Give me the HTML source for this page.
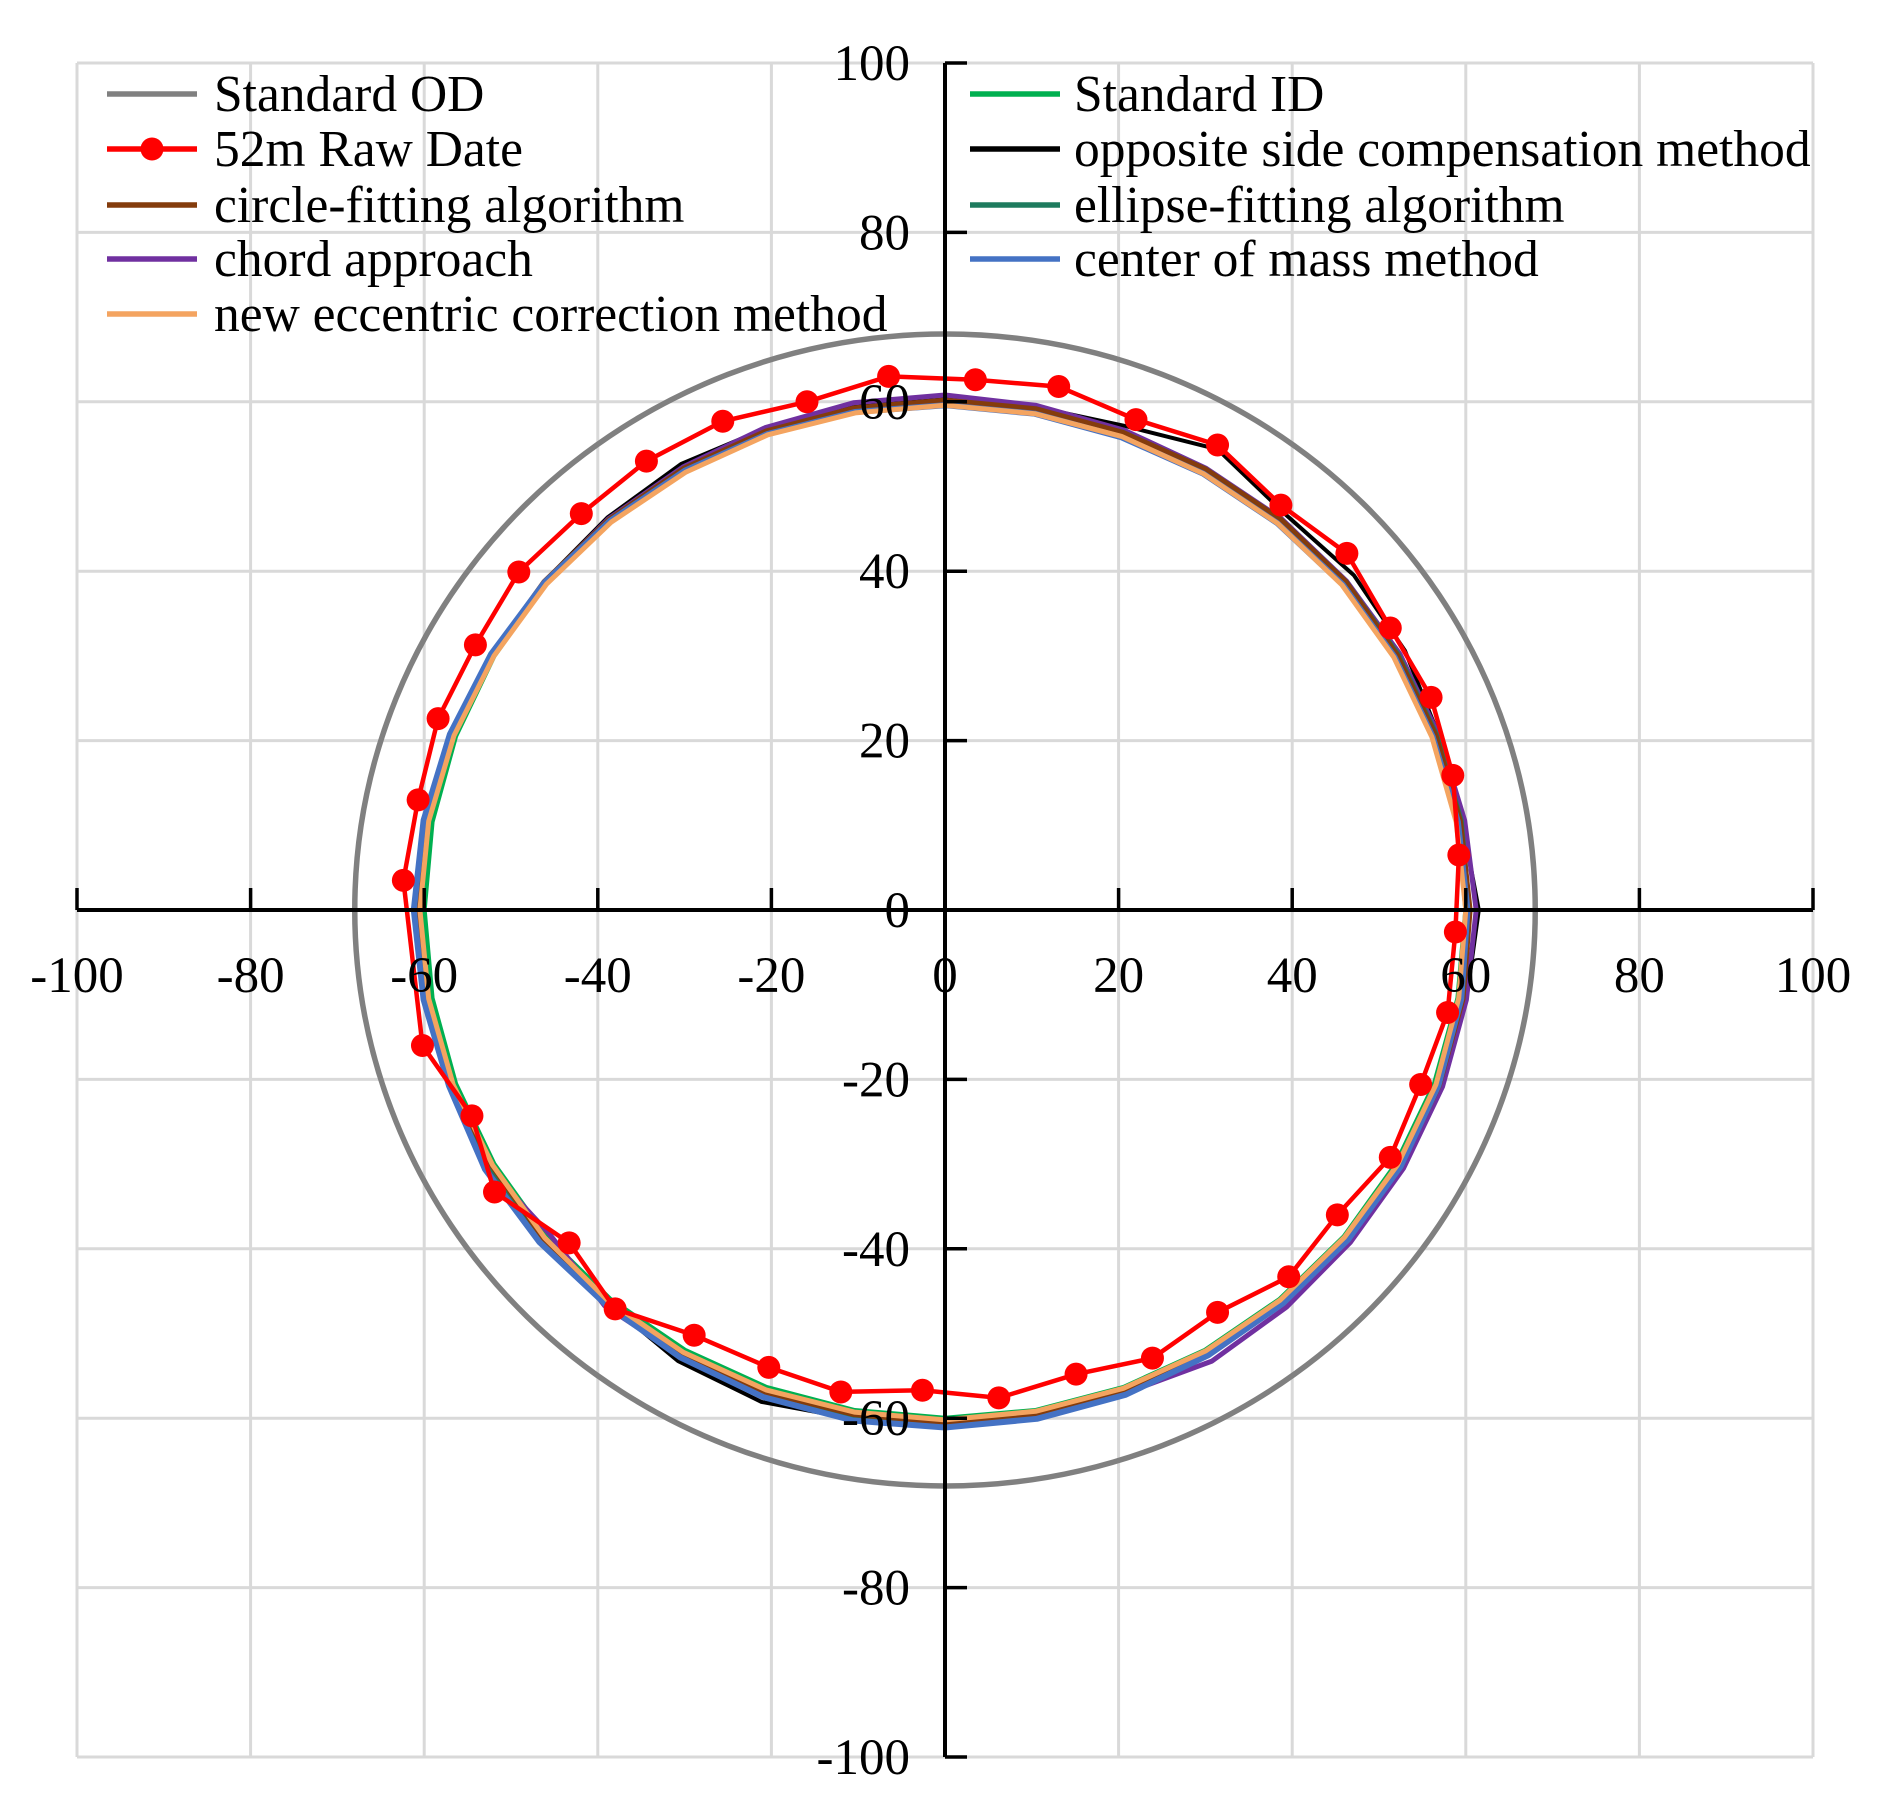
<!DOCTYPE html>
<html><head><meta charset="utf-8">
<style>html,body{margin:0;padding:0;background:#fff}svg{display:block}</style></head>
<body>
<svg id="chart" width="1882" height="1811" viewBox="0 0 1882 1811" xmlns="http://www.w3.org/2000/svg" font-family="Liberation Serif, serif">
<g id="grid"></g>
<g id="series"></g>
<g id="axes"></g>
<g id="legend"></g>
</svg>
<script>
const xTicks=[-100,-80,-60,-40,-20,0,20,40,60,80,100];
const yTicks=[-100,-80,-60,-40,-20,0,20,40,60,80,100];
const xTickLabels=["-100","-80","-60","-40","-20","0","20","40","60","80","100"];
const yTickLabels=["-100","-80","-60","-40","-20","0","20","40","60","80","100"];
const odRadiusValue=[68];
const angles=[0,10,20,30,40,50,60,70,80,90,100,110,120,130,140,150,160,170,180,190,200,210,220,230,240,250,260,270,280,290,300,310,320,330,340,350,360];
const idRadius=[60,60,60,60,60,60,60,60,60,60,60,60,60,60,60,60,60,60,60,60,60,60,60,60,60,60,60,60,60,60,60,60,60,60,60,60,60];
const oppositeRadius=[61.5,60.5,60.5,61.2,61.5,61,62.8,60.8,60.3,60.3,60.3,60.5,60.8,60.5,60.3,60.2,60.5,60.8,60.8,60.5,60.3,60.8,61,60.5,61.5,61.8,61,60.8,60.5,60.5,60.5,60.5,60.8,61,61,61,61.5];
const circleRadius=[60.5,60.3,60.2,60.2,60.3,60.2,60.1,60,60.1,60.2,60.2,60.2,60.2,60.2,60.3,60.3,60.4,60.6,60.8,60.7,60.5,60.3,60.4,60.6,60.6,60.6,60.5,60.5,60.4,60.4,60.5,60.5,60.5,60.6,60.6,60.6,60.5];
const ellipseRadius=[60.4,60.4,60.3,60.3,60.3,60.2,60.1,60,60,60,60.1,60.1,60.2,60.2,60.2,60.3,60.4,60.6,60.7,60.6,60.5,60.5,60.5,60.6,60.6,60.6,60.6,60.6,60.5,60.5,60.5,60.4,60.4,60.5,60.5,60.5,60.4];
const chordRadius=[61.2,60.8,60.5,60.5,60.4,60.3,60.2,60.3,60.5,60.8,60.8,60.6,60.4,60.3,60.2,60.3,60.5,60.8,61,60.8,60.6,60.8,59.5,61,60.8,60.8,60.7,60.6,60.6,60.7,61.5,61.2,61,61,61,61,61.2];
const comRadius=[60.2,60,59.8,59.8,59.8,59.6,59.5,59.4,59.5,59.6,59.7,59.8,59.9,60,60.2,60.4,60.7,61,61.2,61,60.8,61.2,61,60.8,61,61.2,61.2,61.1,61,60.9,60.7,60.6,60.6,60.6,60.5,60.4,60.2];
const newRadius=[60,59.8,59.7,59.7,59.7,59.6,59.5,59.5,59.5,59.6,59.6,59.7,59.7,59.8,59.9,60,60.2,60.4,60.5,60.4,60.3,60.2,60.2,60.3,60.3,60.3,60.2,60.2,60.1,60.1,60.1,60.1,60.1,60.2,60.2,60.1,60];
const rawX=[-6.5,3.5,13.1,22,31.4,38.7,46.3,51.3,56,58.5,59.2,58.8,57.9,54.8,51.3,45.2,39.6,31.4,23.9,15.1,6.2,-2.6,-12,-20.3,-28.9,-38,-43.3,-51.9,-54.5,-60.2,-62.4,-60.7,-58.4,-54.1,-49.1,-41.9,-34.4,-25.6,-15.9,-6.5];
const rawY=[63,62.6,61.8,57.9,54.9,47.8,42.1,33.3,25.1,15.9,6.5,-2.6,-12.1,-20.6,-29.2,-36,-43.3,-47.5,-52.9,-54.8,-57.6,-56.7,-56.9,-54,-50.2,-47.1,-39.3,-33.3,-24.3,-16,3.5,13,22.6,31.3,39.9,46.8,53,57.7,60,63];

const NS='http://www.w3.org/2000/svg';
const X0=945,Y0=910,SX=8.68,SY=8.47;
const xs=v=>X0+v*SX, ys=v=>Y0-v*SY;
function mk(tag,attrs,parent){const e=document.createElementNS(NS,tag);for(const k in attrs)e.setAttribute(k,attrs[k]);parent.appendChild(e);return e;}
const grid=document.getElementById('grid'),ser=document.getElementById('series'),axes=document.getElementById('axes'),leg=document.getElementById('legend');

xTicks.forEach(v=>{const l=mk('line',{x1:xs(v),x2:xs(v),y1:ys(100),y2:ys(-100),stroke:'#d9d9d9','stroke-width':3},grid);

});
yTicks.forEach(v=>{const l=mk('line',{x1:xs(-100),x2:xs(100),y1:ys(v),y2:ys(v),stroke:'#d9d9d9','stroke-width':3},grid);

});

const od=mk('ellipse',{cx:xs(0),cy:ys(0),rx:odRadiusValue[0]*SX,ry:odRadiusValue[0]*SY,fill:'none',stroke:'#808080','stroke-width':5.5},ser);



function polar(rs,color,w,name){
  const pts=angles.map((a,i)=>{const t=a*Math.PI/180;return xs(rs[i]*Math.cos(t)).toFixed(1)+','+ys(rs[i]*Math.sin(t)).toFixed(1);}).join(' ');
  const p=mk('polyline',{points:pts,fill:'none',stroke:color,'stroke-width':w,'stroke-linejoin':'round'},ser);
  
  
}
polar(idRadius,'#00b050',5,'standard-id-line');
polar(oppositeRadius,'#000000',4,'opposite-side-line');
polar(chordRadius,'#7030a0',5,'chord-approach-line');
polar(ellipseRadius,'#1e7b5e',5,'ellipse-fitting-line');
polar(circleRadius,'#843c0c',5,'circle-fitting-line');
polar(comRadius,'#4472c4',6,'center-of-mass-line');
polar(newRadius,'#f4a460',5,'new-eccentric-line');

const rawPts=rawX.map((x,i)=>xs(x).toFixed(1)+','+ys(rawY[i]).toFixed(1)).join(' ');
const rl=mk('polyline',{points:rawPts,fill:'none',stroke:'#ff0000','stroke-width':4.5},ser);


rawX.forEach((x,i)=>{if(i===rawX.length-1)return;const c=mk('circle',{cx:xs(x),cy:ys(rawY[i]),r:11.5,fill:'#ff0000'},ser);

});

const xa=mk('line',{x1:xs(-100),x2:xs(100),y1:Y0,y2:Y0,stroke:'#000','stroke-width':4},axes);


const ya=mk('line',{x1:X0,x2:X0,y1:ys(100),y2:ys(-100),stroke:'#000','stroke-width':4},axes);


xTicks.forEach((v,i)=>{const t=mk('line',{x1:xs(v),x2:xs(v),y1:Y0,y2:Y0-22,stroke:'#000','stroke-width':3.5},axes);


const tx=mk('text',{x:xs(v),y:Y0+82,'text-anchor':'middle','font-size':51,fill:'#000'},axes);tx.textContent=xTickLabels[i];

});
yTicks.forEach((v,i)=>{const t=mk('line',{x1:X0,x2:X0+22,y1:ys(v),y2:ys(v),stroke:'#000','stroke-width':3.5},axes);


const tx=mk('text',{x:X0-35,y:ys(v)+17,'text-anchor':'end','font-size':51,fill:'#000'},axes);tx.textContent=yTickLabels[i];

});

const items=[
 ['Standard OD','#808080',107,214,94,false],
 ['52m Raw Date','#ff0000',107,214,149,true],
 ['circle-fitting algorithm','#843c0c',107,214,205,false],
 ['chord approach','#7030a0',107,214,259,false],
 ['new eccentric correction method','#f4a460',107,214,314,false],
 ['Standard ID','#00b050',970,1074,94,false],
 ['opposite side compensation method','#000000',970,1074,149,false],
 ['ellipse-fitting algorithm','#1e7b5e',970,1074,205,false],
 ['center of mass method','#4472c4',970,1074,259,false]];
items.forEach(it=>{
 const g=mk('g',{},leg);
 
 
 mk('line',{x1:it[2],x2:it[2]+90,y1:it[4],y2:it[4],stroke:it[1],'stroke-width':5.5},g);
 if(it[5])mk('circle',{cx:it[2]+45,cy:it[4],r:11.5,fill:'#ff0000'},g);
 const t=mk('text',{x:it[3],y:it[4]+17,'font-size':51.5,fill:'#000'},g);t.textContent=it[0];
});
</script>
</body></html>
